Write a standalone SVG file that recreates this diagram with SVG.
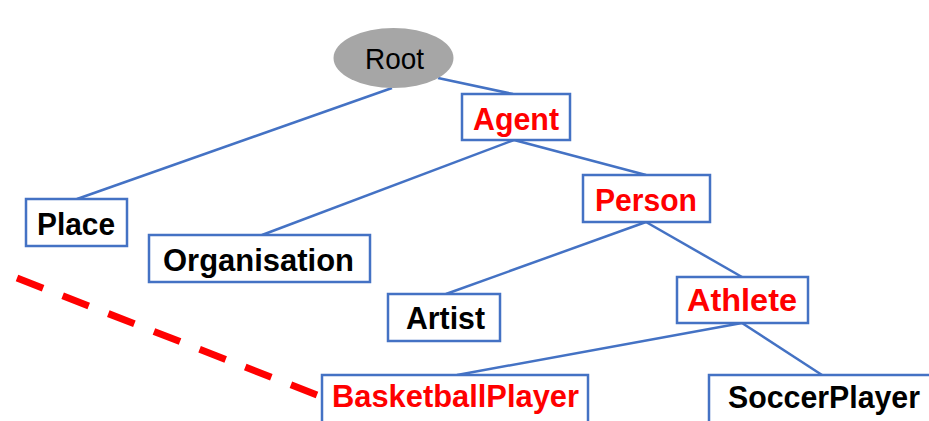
<svg xmlns="http://www.w3.org/2000/svg" width="929" height="421" viewBox="0 0 929 421">
<style>
.box{fill:#fff;stroke:#4472C4;stroke-width:2.5}
.edge{stroke:#4472C4;stroke-width:2.5;fill:none}
.t{font-family:"Liberation Sans",Arial,sans-serif;font-weight:bold;font-size:31px}
.red{fill:#FF0000}
.blk{fill:#000}
</style>
<rect width="929" height="421" fill="#fff"/>
<g id="connectors">
<line class="edge" x1="392" y1="88" x2="77" y2="199"/>
<line class="edge" x1="438" y1="78" x2="513" y2="94"/>
<line class="edge" x1="514" y1="140" x2="262" y2="235"/>
<line class="edge" x1="514" y1="140" x2="646" y2="175"/>
<line class="edge" x1="646" y1="222" x2="446" y2="294"/>
<line class="edge" x1="646" y1="222" x2="742" y2="277"/>
<line class="edge" x1="742" y1="323" x2="457" y2="375"/>
<line class="edge" x1="742" y1="323" x2="822" y2="375"/>
<line x1="17" y1="278" x2="322" y2="397" stroke="#FF0000" stroke-width="7" stroke-dasharray="28 21"/>
</g>
<g id="root">
<ellipse cx="393.5" cy="58" rx="60" ry="30" fill="#A6A6A6"/>
<text x="394.5" y="69" text-anchor="middle" font-family="'Liberation Sans',Arial,sans-serif" font-size="29" fill="#000" textLength="59" lengthAdjust="spacingAndGlyphs">Root</text>
</g>
<g id="agent">
<rect class="box" x="462" y="94" width="108" height="46"/>
<text class="t red" x="473" y="130" textLength="86" lengthAdjust="spacingAndGlyphs">Agent</text>
</g>
<g id="place">
<rect class="box" x="26" y="199" width="101" height="47"/>
<text class="t blk" x="37" y="235" textLength="78" lengthAdjust="spacingAndGlyphs">Place</text>
</g>
<g id="organisation">
<rect class="box" x="149" y="235" width="221" height="47"/>
<text class="t blk" x="163" y="271" textLength="191" lengthAdjust="spacingAndGlyphs">Organisation</text>
</g>
<g id="person">
<rect class="box" x="583" y="175" width="127" height="47"/>
<text class="t red" x="595" y="211" textLength="102" lengthAdjust="spacingAndGlyphs">Person</text>
</g>
<g id="artist">
<rect class="box" x="388" y="294" width="112" height="47"/>
<text class="t blk" x="406" y="329" textLength="79" lengthAdjust="spacingAndGlyphs">Artist</text>
</g>
<g id="athlete">
<rect class="box" x="677" y="277" width="131" height="46"/>
<text class="t red" x="687" y="311" textLength="110" lengthAdjust="spacingAndGlyphs">Athlete</text>
</g>
<g id="basketballplayer">
<rect class="box" x="322" y="375" width="266" height="50"/>
<text class="t red" x="332" y="407" textLength="247" lengthAdjust="spacingAndGlyphs">BasketballPlayer</text>
</g>
<g id="soccerplayer">
<rect class="box" x="709" y="375" width="240" height="50"/>
<text class="t blk" x="728" y="408" textLength="192" lengthAdjust="spacingAndGlyphs">SoccerPlayer</text>
</g>
</svg>
